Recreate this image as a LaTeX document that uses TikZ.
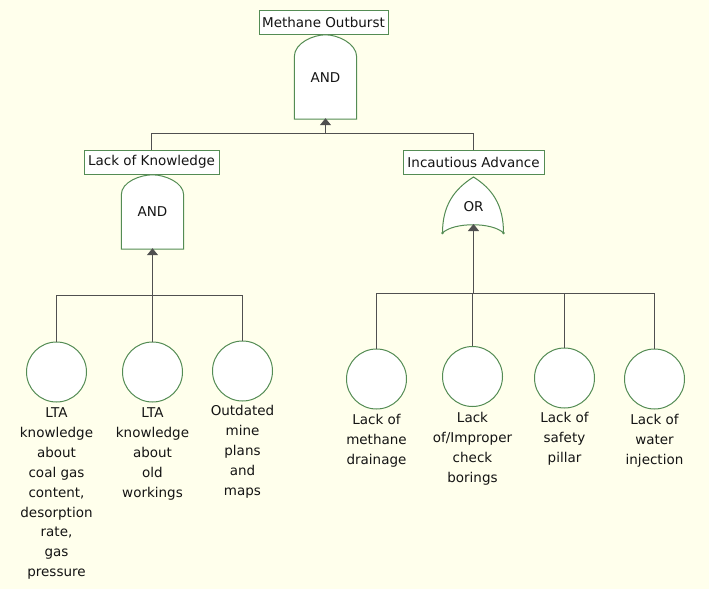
\documentclass[tikz,border=0pt]{standalone}
\usepackage{fontspec}
\setmainfont{DejaVu Sans}
\usetikzlibrary{arrows.meta}

\definecolor{paper}{RGB}{255,255,236}
\definecolor{gategreen}{RGB}{84,140,84}
\definecolor{wiregray}{RGB}{80,80,80}
\definecolor{ink}{RGB}{20,20,20}

\tikzset{
  x=1pt, y=1pt,
  txt/.style={font=\fontsize{13.5}{19.9}\selectfont, text=ink},
  evbox/.style={txt, draw=gategreen, fill=white, line width=1pt,
                minimum height=24, inner sep=1.5, inner ysep=0},
  gatebox/.style={draw=none, inner sep=0, txt},
  gateline/.style={draw=gategreen, fill=white, line width=1pt},
  basic/.style={circle, draw=gategreen, fill=white, line width=1pt,
                minimum size=60, inner sep=0},
  caption/.style={txt, anchor=north, align=center, inner sep=0},
  wire/.style={draw=wiregray, line width=1pt},
  feed/.style={wire, -{Triangle[width=11pt,length=7pt]}, shorten >=-1pt}
}

\begin{document}
\begin{tikzpicture}
\path[fill=paper] (0,0) rectangle (709,-589);
\useasboundingbox (0,0) rectangle (709,-589);

% ---------- top event ----------
\node[evbox, minimum width=129] (top) at (323.5,-22) {Methane Outburst};
\node[gatebox, minimum width=62, minimum height=84] (g1) at (325.5,-77) {};
\draw[gateline] (g1.south west) -- (g1.south east) -- ++(0,62)
  .. controls ++(0,14) and ++(12,0) .. (g1.north)
  .. controls ++(-12,0) and ++(0,14) .. ([yshift=-22]g1.north west) -- cycle;
\node[txt] at (325.5,-78) {AND};

% ---------- intermediate events ----------
\node[evbox, minimum width=135] (lk) at (151.5,-162) {Lack of Knowledge};
\node[evbox, minimum width=141] (ia) at (473.5,-162) {Incautious Advance};

\node[gatebox, minimum width=62, minimum height=74] (g2) at (152.5,-212) {};
\draw[gateline] (g2.south west) -- (g2.south east) -- ++(0,54)
  .. controls ++(0,13) and ++(12,0) .. (g2.north)
  .. controls ++(-12,0) and ++(0,13) .. ([yshift=-20]g2.north west) -- cycle;
\node[txt] at (152.5,-212) {AND};

% OR gate
\coordinate (orL) at (442.5,-233);
\coordinate (orR) at (503.5,-233);
\coordinate (orT) at (473.5,-177);
\coordinate (g3) at (473.5,-225);
\draw[gateline] (orL) .. controls (442.5,-205) and (454.5,-189) .. (orT)
  .. controls (492.5,-189) and (503.5,-205) .. (orR)
  .. controls (492.5,-222) and (453.5,-222) .. (orL) -- cycle;
\fill[gategreen] (orL) circle (1.4) (orR) circle (1.4);
\node[txt] at (473.5,-207) {OR};

% ---------- basic events ----------
\node[basic] (c1) at (56.5,-372) {};
\node[basic] (c2) at (152.5,-372) {};
\node[basic] (c3) at (242.5,-371) {};
\node[basic] (c4) at (376.5,-379) {};
\node[basic] (c5) at (472.5,-376.5) {};
\node[basic] (c6) at (564.5,-378) {};
\node[basic] (c7) at (654.5,-379) {};

\node[caption] (t1) at ([yshift=-5]c1.south) {LTA\\knowledge\\about\\coal gas\\content,\\desorption\\rate,\\gas\\pressure};
\node[caption] (t2) at ([yshift=-5]c2.south) {LTA\\knowledge\\about\\old\\workings};
\node[caption] (t3) at ([yshift=-4]c3.south) {Outdated\\mine\\plans\\and\\maps};
\node[caption] (t4) at ([yshift=-5]c4.south) {Lack of\\methane\\drainage};
\node[caption] (t5) at ([yshift=-5]c5.south) {Lack\\of/Improper\\check\\borings};
\node[caption] (t6) at ([yshift=-4]c6.south) {Lack of\\safety\\pillar};
\node[caption] (t7) at ([yshift=-5]c7.south) {Lack of\\water\\injection};

% ---------- connectors ----------
\coordinate (busTop) at (325.5,-133.5);
\coordinate (busLK) at (152.5,-295.5);
\coordinate (busIA) at (473.5,-293.5);

\draw[feed] (busTop) -- (g1.south);
\draw[wire] (lk.north) |- (busTop) -| (ia.north);

\draw[feed] (busLK) -- (g2.south);
\draw[wire] (c1.north) |- (busLK) -| (c3.north);
\draw[wire] (c2.north) -- (busLK);

\draw[feed] (busIA) -- (g3);
\draw[wire] (c4.north) |- (busIA) -| (c7.north);
\draw[wire] (c5.north) -- (c5.north |- busIA);
\draw[wire] (c6.north) -- (c6.north |- busIA);
\end{tikzpicture}
\end{document}
